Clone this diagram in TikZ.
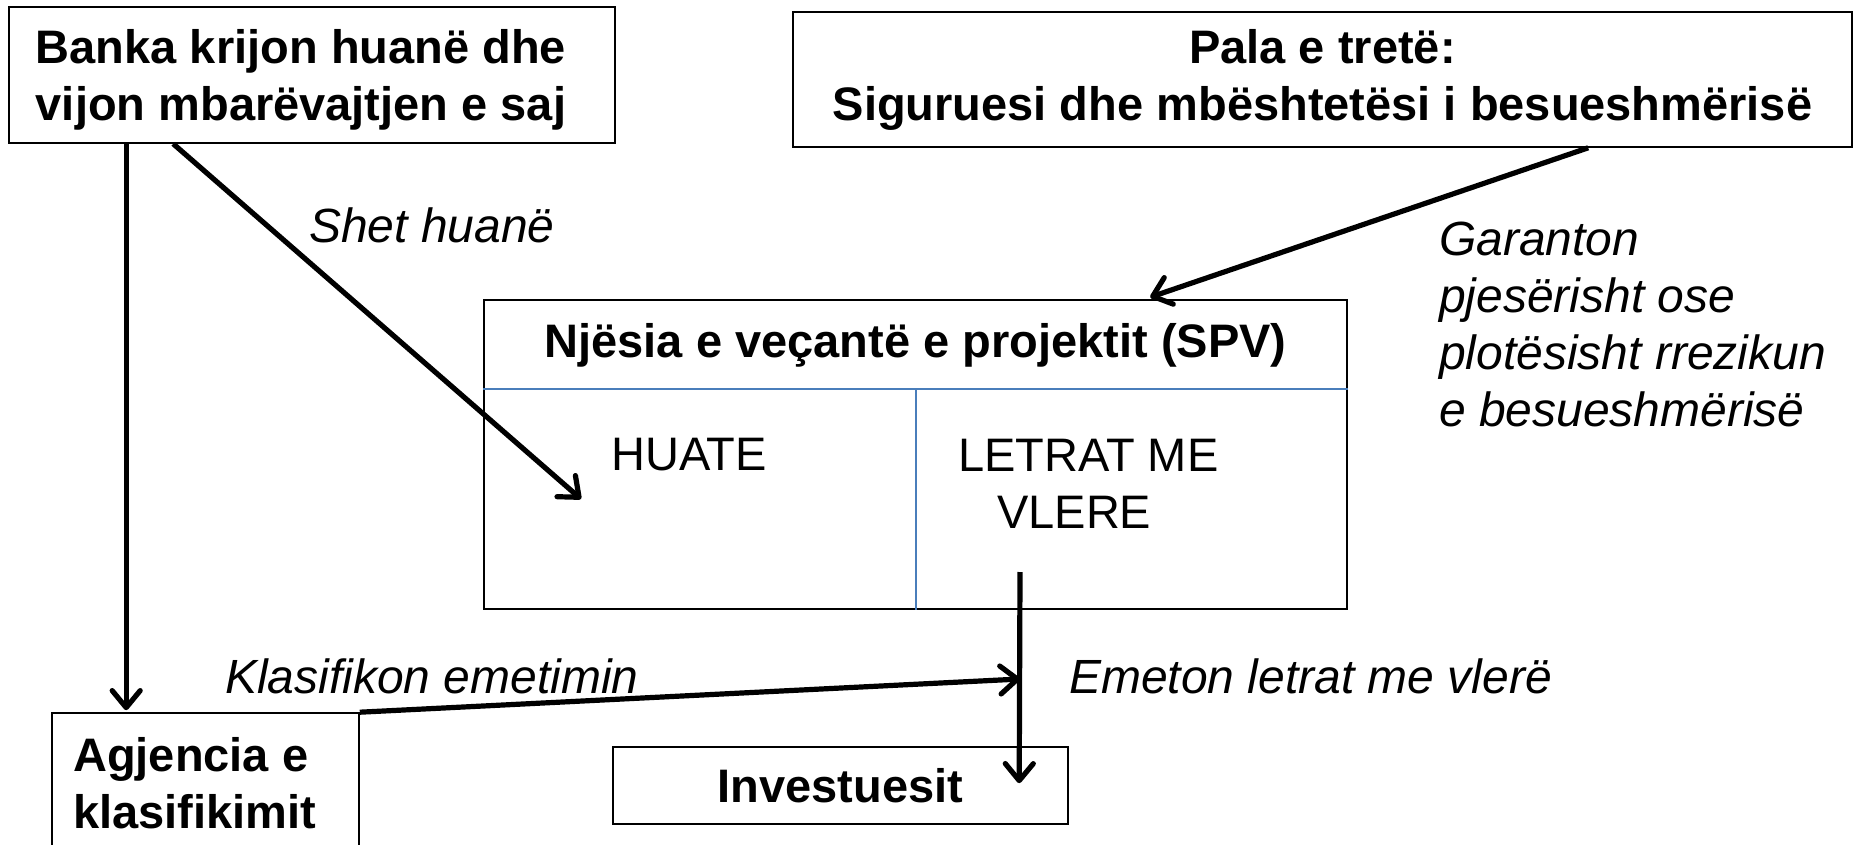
\documentclass[tikz,border=0pt]{standalone}
\usepackage{fontspec}
\setmainfont{Liberation Sans}
\usetikzlibrary{arrows.meta,calc}
\definecolor{divblue}{RGB}{74,126,187}
\tikzset{
  box/.style={draw=black, line width=1.6pt, rectangle, inner sep=0pt, align=center, font=\bfseries\fontsize{47}{57}\selectfont},
  btxt/.style={inner sep=0pt, align=center, font=\bfseries\fontsize{47}{57}\selectfont},
  lbl/.style={inner sep=0pt, font=\itshape\fontsize{48}{57}\selectfont},
  txt/.style={inner sep=0pt, align=center, font=\fontsize{47}{57}\selectfont},
  arr/.style={line width=5.2pt, -{Straight Barb[length=17pt,width=28pt,line width=5.2pt,round]}},
  divider/.style={draw=divblue, line width=2pt}
}
\begin{document}
\begin{tikzpicture}[x=1pt,y=-1pt]
\useasboundingbox (0,0) rectangle (1857,845);
\clip (0,0) rectangle (1857,845);
\node[box, minimum width=606pt, minimum height=136pt] (banka) at (312,75) {};
\node[btxt] (bankatext) at (301,80) {Banka krijon huanë dhe\\vijon mbarëvajtjen e saj};
\node[box, minimum width=1059pt, minimum height=135pt] (pala) at (1322.5,79.5) {Pala e tretë:\\Siguruesi dhe mbështetësi i besueshmërisë};
\node[draw, line width=1.6pt, minimum width=863pt, minimum height=309pt, inner sep=0pt] (spv) at (915.5,454.5) {};
\node[btxt] (spvtitle) at (915.5,345) {Njësia e veçantë e projektit (SPV)};
\draw[divider] ($(spv.north west)+(0,90)$) -- ($(spv.north east)+(0,90)$);
\draw[divider] ($(spv.north)+(0,90)$) -- (spv.south);
\node[txt, anchor=west] (huate) at (611,455) {HUATE};
\node[txt, anchor=west] (letrat) at (958,455) {LETRAT ME};
\node[txt, anchor=west] (vlere) at (997,512) {VLERE};
\node[box, minimum width=307pt, minimum height=145pt] (agj) at (205.5,785.5) {};
\node[btxt, align=left, anchor=west] (agjtext) at (73,783) {Agjencia e\\klasifikimit};
\node[box, minimum width=455pt, minimum height=77pt] (inv) at (840.5,785.5) {Investuesit};
\coordinate (huatein) at (581,499);
\coordinate (klasin) at (1020,679);
\coordinate (emetstart) at (1020,572);
\draw[arr] ($(banka.south west)+(118,0)$) -- ($(agj.north west)+(75,-2)$);
\draw[arr] ($(banka.south west)+(165,0)$) -- (huatein);
\draw[arr] ($(pala.south west)+(796,0)$) -- ($(spv.north west)+(667,-2)$);
\draw[arr] (agj.north east) -- (klasin);
\draw[arr] (emetstart) -- ($(inv.north west)+(407,37)$);
\node[lbl, anchor=west] (shet) at (309,225) {Shet huanë};
\node[lbl, anchor=west, align=left] (garanton) at (1439,324) {Garanton\\pjesërisht ose\\plotësisht rrezikun\\e besueshmërisë};
\node[lbl, anchor=west] (klas) at (225,676) {Klasifikon emetimin};
\node[lbl, anchor=west] (emet) at (1069,676) {Emeton letrat me vlerë};
\end{tikzpicture}
\end{document}
